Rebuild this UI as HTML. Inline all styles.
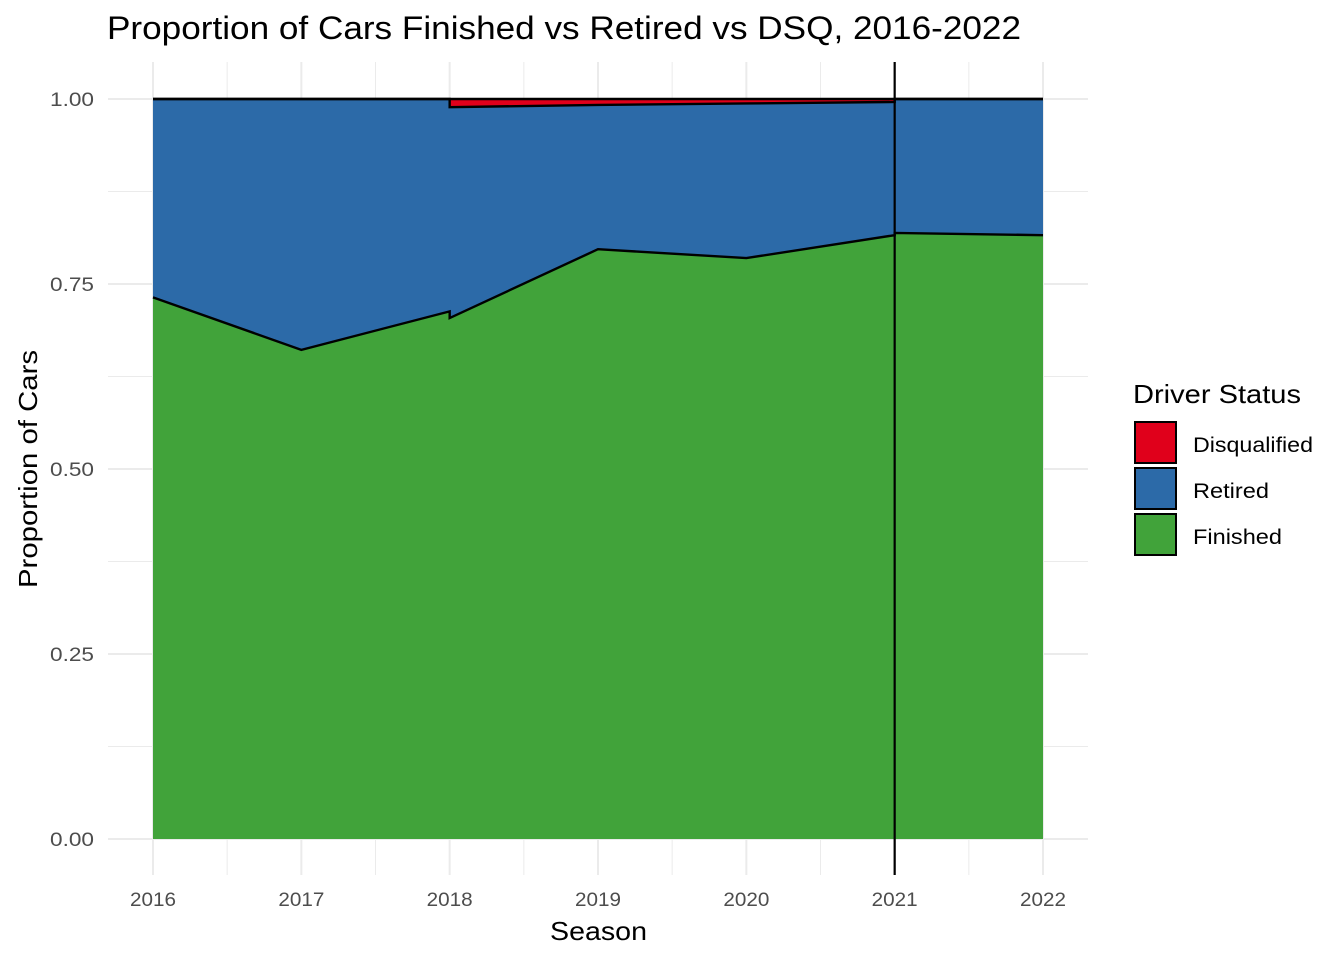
<!DOCTYPE html>
<html><head><meta charset="utf-8"><style>
body{margin:0;background:#fff;font-family:"Liberation Sans",Arial,sans-serif}
</style></head><body>
<svg id="chart" width="1344" height="960" font-family="Liberation Sans, Arial, sans-serif">
<g id="grid"></g><g id="areas"></g><g id="outlines"></g><g id="axes"></g>
<text x="107" y="39" font-size="32" textLength="914" lengthAdjust="spacingAndGlyphs" fill="#000">Proportion of Cars Finished vs Retired vs DSQ, 2016-2022</text>
<text x="550" y="940" font-size="26" textLength="97" lengthAdjust="spacingAndGlyphs">Season</text>
<text transform="translate(37,588) rotate(-90)" font-size="26" textLength="238" lengthAdjust="spacingAndGlyphs">Proportion of Cars</text>
<g>
<text x="1133" y="403" font-size="26" textLength="168" lengthAdjust="spacingAndGlyphs">Driver Status</text>
<rect x="1135" y="422" width="41" height="41" fill="#e0001b" stroke="#000" stroke-width="2"/>
<text x="1193" y="452" font-size="21" textLength="120" lengthAdjust="spacingAndGlyphs">Disqualified</text>
<rect x="1135" y="468" width="41" height="41" fill="#2c6aa8" stroke="#000" stroke-width="2"/>
<text x="1193" y="498" font-size="21" textLength="76" lengthAdjust="spacingAndGlyphs">Retired</text>
<rect x="1135" y="514" width="41" height="41" fill="#41a33a" stroke="#000" stroke-width="2"/>
<text x="1193" y="544" font-size="21" textLength="89" lengthAdjust="spacingAndGlyphs">Finished</text>
</g>
</svg>
<script>
const seasons=[2016,2017,2018,2018,2019,2020,2021,2021,2022];
const finished=[0.732,0.661,0.713,0.704,0.797,0.785,0.816,0.819,0.816];
const disqualified=[0,0,0,0.011,0.008,0.006,0.004,0,0];
const xTicks=[2016,2017,2018,2019,2020,2021,2022];
const yTicks=[0,0.25,0.5,0.75,1.0];
const yTickLabels=["0.00","0.25","0.50","0.75","1.00"];
const vlineSeason=2021;
const NS="http://www.w3.org/2000/svg";
const X=v=>153+(v-2016)*(1043-153)/6;
const Y=v=>839-v*740;
function mk(tag,attrs,parent){const e=document.createElementNS(NS,tag);for(const k in attrs)e.setAttribute(k,attrs[k]);document.getElementById(parent).appendChild(e);return e;}
for(let i=0;i<yTicks.length;i++){
  if(i<yTicks.length-1){const m=(yTicks[i]+yTicks[i+1])/2;
    const g=mk('line',{x1:108,x2:1088,y1:Y(m),y2:Y(m),stroke:'#ebebeb','stroke-width':1},'grid');
    }
  const g=mk('line',{x1:108,x2:1088,y1:Y(yTicks[i]),y2:Y(yTicks[i]),stroke:'#ebebeb','stroke-width':2},'grid');
  
  const t=mk('text',{x:50,y:Y(yTicks[i])+7,'font-size':19,fill:'#4d4d4d',textLength:44,lengthAdjust:'spacingAndGlyphs'},'axes');
  t.textContent=yTickLabels[i];
  
}
for(let i=0;i<xTicks.length;i++){
  if(i<xTicks.length-1){const m=xTicks[i]+0.5;
    const g=mk('line',{x1:X(m),x2:X(m),y1:62,y2:875,stroke:'#ebebeb','stroke-width':1},'grid');
    }
  const g=mk('line',{x1:X(xTicks[i]),x2:X(xTicks[i]),y1:62,y2:875,stroke:'#ebebeb','stroke-width':2},'grid');
  
  const t=mk('text',{x:X(xTicks[i])-23,y:906,'font-size':19,fill:'#4d4d4d',textLength:46,lengthAdjust:'spacingAndGlyphs'},'axes');
  t.textContent=xTicks[i];
  
}
const fTop=finished, rTop=finished.map((f,i)=>1-disqualified[i]), dTop=finished.map(()=>1);
function band(lo,hi,fill,name){
  let d='';
  seasons.forEach((s,i)=>{d+=(i?'L':'M')+X(s)+','+Y(hi[i]);});
  for(let i=seasons.length-1;i>=0;i--)d+='L'+X(seasons[i])+','+Y(lo[i]);
  const p=mk('path',{d:d+'Z',fill:fill},'areas');
  
  let l='';seasons.forEach((s,i)=>{l+=(i?'L':'M')+X(s)+','+Y(hi[i]);});
  const o=mk('path',{d:l,fill:'none',stroke:'#000','stroke-width':2.4,'stroke-linejoin':'miter'},'outlines');
  
}
band(seasons.map(()=>0),fTop,'#41a33a','area-finished');
band(fTop,rTop,'#2c6aa8','area-retired');
band(rTop,dTop,'#e0001b','area-disqualified');
const v=mk('line',{x1:X(vlineSeason),x2:X(vlineSeason),y1:62,y2:875,stroke:'#000','stroke-width':2.2},'outlines');

</script>
</body></html>
